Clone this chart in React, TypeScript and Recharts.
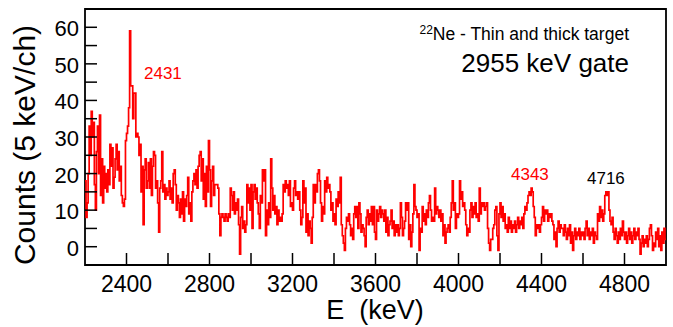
import React from 'react';
import { LineChart, Line, XAxis, YAxis, ReferenceArea } from 'recharts';

// 5 keV/ch spectrum, 2200 - 5000 keV (560 channels), gated on 2955 keV
const FIRST_BIN = 2200;
const BIN_WIDTH = 5;

const counts: number[] = [
  // 2200
  18, 8, 12, 20, 33, 25, 37, 30, 34, 17, 10, 26, 33, 20, 36, 14, 24, 12, 22, 16,
  // 2300
  20, 15, 21, 17, 28, 22, 27, 16, 19, 24, 28, 21, 26, 18, 22, 14, 12, 11, 13, 29,
  // 2400
  31, 33, 38, 59, 44, 44, 35, 42, 42, 30, 31, 30, 25, 28, 15, 22, 6, 21, 24, 16,
  // 2500
  18, 23, 16, 24, 14, 22, 26, 25, 16, 18, 12, 4, 16, 18, 26, 15, 17, 13, 16, 14,
  // 2600
  15, 18, 13, 16, 12, 20, 21, 17, 10, 14, 12, 8, 13, 9, 15, 7, 13, 11, 14, 19,
  // 2700
  9, 12, 7, 15, 18, 20, 17, 21, 16, 22, 25, 26, 18, 24, 13, 20, 11, 22, 15, 29,
  // 2800
  21, 11, 18, 22, 14, 17, 17, 17, 16, 9, 3, 8, 9, 8, 7, 9, 8, 7, 9, 8,
  // 2900
  16, 14, 10, 15, 9, 12, 10, 13, 6, -2, 8, 11, 5, 7, 4, 6, 17, 12, 16, 10,
  // 3000
  17, 5, 15, 17, 13, 16, 12, 9, 5, 14, 12, 21, 18, 21, 3, 10, 6, 12, 8, 24,
  // 3100
  16, 10, 14, 9, 11, 6, 10, 7, 8, 7, 9, 17, 15, 18, 16, 17, 14, 18, 11, 12,
  // 3200
  10, 16, 18, 14, 15, 13, 15, 10, 6, 8, 18, 12, 16, 4, 9, 3, 7, 5, 1, 8,
  // 3300
  17, 12, 17, 15, 20, 21, 18, 12, 7, 11, 9, 18, 15, 19, 16, 17, 15, 10, 12, 7,
  // 3400
  9, 6, 13, 11, 15, 12, 19, 6, 3, 1, -1, 5, 8, 7, 9, 6, 3, 5, 2, 9,
  // 3500
  11, 8, 11, 5, 12, 9, 4, 6, 5, 3, 0, 8, 10, 6, 9, 7, 11, 6, 11, 4,
  // 3600
  2, 10, 7, 9, 11, 8, 10, 9, 7, 10, 4, 8, 3, 6, 7, 10, 5, 7, 3, 6,
  // 3700
  4, 6, 3, 5, 12, 8, 3, 5, 7, 12, 10, 12, 2, 6, 0, 4, 9, 17, 11, 10,
  // 3800
  8, 9, -1, 5, 4, 11, 7, 9, 6, 10, 8, 12, 14, 10, 7, 8, 7, 16, 9, 11,
  // 3900
  10, 8, 10, 7, 9, 3, 6, 1, 4, 5, 6, 4, 8, 12, 18, 10, 12, 5, 9, 8,
  // 4000
  9, 18, 13, 15, 11, 12, 10, 6, 3, 5, 4, 10, 12, 8, 11, 9, 12, 8, 9, 7,
  // 4100
  16, 9, 12, 11, 12, 10, 11, 12, 5, 1, -1, 2, 2, 5, 6, 10, 11, 3, -1, 9,
  // 4200
  12, 8, 11, 7, 9, 5, 6, 4, 8, 5, 7, 4, 6, 5, 7, 4, 6, 8, 5, 7,
  // 4300
  6, 8, 5, 9, 11, 10, 12, 14, 15, 14, 16, 15, 11, 8, 3, 6, 5, 6, 4, 6,
  // 4400
  8, 11, 7, 10, 9, 10, 7, 9, 8, 9, 7, 6, 2, 4, 0, 5, 7, 4, 6, 5,
  // 4500
  5, 3, 6, 4, 2, 5, 3, 6, 1, 4, -1, 3, 5, 2, 4, 3, 5, 2, 4, 3,
  // 4600
  4, 2, 5, 7, 3, 5, 2, 4, 3, 5, 1, 4, 3, 2, 9, 7, 11, 8, 10, 7,
  // 4700
  9, 14, 15, 14, 15, 10, 7, 6, 8, 4, 2, 5, 3, 1, 4, 2, 5, 3, 7, 4,
  // 4800
  2, 4, 1, 3, 5, 2, 4, 1, 3, 5, 2, 4, 3, 5, 2, -2, 1, 3, 0, 2,
  // 4900
  1, 3, 0, 2, 5, 6, 3, -1, 1, 0, 4, 2, 5, 0, 3, -1, 4, 1, 5, 2,
];

const xTicks = [2200, 2400, 2600, 2800, 3000, 3200, 3400, 3600, 3800, 4000, 4200, 4400, 4600, 4800, 5000];
const xLabels = [2400, 2800, 3200, 3600, 4000, 4400, 4800];
const yTicks = [-5, 0, 5, 10, 15, 20, 25, 30, 35, 40, 45, 50, 55, 60, 65];
const yLabels = [0, 10, 20, 30, 40, 50, 60];

const X_MIN = 2200;
const X_MAX = 5000;
const Y_MIN = -5;
const Y_MAX = 65;

const FONT = '"Liberation Sans", Arial, Helvetica, sans-serif';
const RED = '#ff0000';

// bins drawn at their low edge with stepAfter; closing point at the upper edge
const data = counts
  .map((c, i) => ({ e: FIRST_BIN + i * BIN_WIDTH, c }))
  .concat([{ e: FIRST_BIN + counts.length * BIN_WIDTH, c: counts[counts.length - 1] }]);

const XTick = (props: any) => {
  const { x, y, payload } = props;
  const v = payload.value;
  const edge = v === X_MIN || v === X_MAX;
  return (
    <g>
      {!edge && <line x1={x} x2={x} y1={y} y2={y - 12} stroke="#000" strokeWidth={1.5} />}
      {xLabels.includes(v) && (
        <text x={x} y={y + 27} textAnchor="middle" fontSize={23} fontFamily={FONT} fill="#000">
          {v}
        </text>
      )}
    </g>
  );
};

const YTickLeft = (props: any) => {
  const { x, y, payload } = props;
  const v = payload.value;
  const edge = v === Y_MIN || v === Y_MAX;
  return (
    <g>
      {!edge && <line x1={x} x2={x + 12} y1={y} y2={y} stroke="#000" strokeWidth={1.5} />}
      {yLabels.includes(v) && (
        <text x={x - 6} y={y + 9} textAnchor="end" fontSize={22} fontFamily={FONT} fill="#000">
          {v}
        </text>
      )}
    </g>
  );
};

const YTickRight = (props: any) => {
  const { x, y, payload } = props;
  const v = payload.value;
  if (v === Y_MIN || v === Y_MAX) return <g />;
  return <line x1={x} x2={x - 12} y1={y} y2={y} stroke="#000" strokeWidth={1.5} />;
};

export default function App() {
  return (
    <div style={{ position: 'absolute', left: 0, top: 0, background: '#fff' }}>
      <LineChart width={673} height={327} data={data} margin={{ top: 9, right: 7, bottom: 0, left: 0 }}>
        <XAxis
          dataKey="e"
          type="number"
          domain={[X_MIN, X_MAX]}
          ticks={xTicks}
          interval={0}
          allowDataOverflow
          height={62}
          axisLine={false}
          tickLine={false}
          tickSize={0}
          tickMargin={0}
          tick={XTick}
        />
        <YAxis
          yAxisId="left"
          type="number"
          domain={[Y_MIN, Y_MAX]}
          ticks={yTicks}
          interval={0}
          allowDataOverflow
          width={85}
          axisLine={false}
          tickLine={false}
          tickSize={0}
          tickMargin={0}
          tick={YTickLeft}
        />
        <YAxis
          yAxisId="right"
          orientation="right"
          type="number"
          domain={[Y_MIN, Y_MAX]}
          ticks={yTicks}
          interval={0}
          allowDataOverflow
          width={0}
          axisLine={false}
          tickLine={false}
          tickSize={0}
          tickMargin={0}
          tick={YTickRight}
        />
        <Line
          yAxisId="left"
          type="stepAfter"
          dataKey="c"
          stroke={RED}
          strokeWidth={1.7}
          dot={false}
          activeDot={false}
          isAnimationActive={false}
        />
        <ReferenceArea
          yAxisId="left"
          x1={X_MIN}
          x2={X_MAX}
          y1={Y_MIN}
          y2={Y_MAX}
          fill="none"
          fillOpacity={0}
          stroke="#000"
          strokeWidth={1.8}
          ifOverflow="visible"
        />
        <text x={35} y={145} transform="rotate(-90, 35, 145)" textAnchor="middle" fontSize={30} fontFamily={FONT} fill="#000">
          Counts (5 keV/ch)
        </text>
        <text x={375} y={319} textAnchor="middle" fontSize={27} fontFamily={FONT} fill="#000" style={{ whiteSpace: 'pre' }}>
          {'E  (keV)'}
        </text>
        <text x={629} y={40} textAnchor="end" fontFamily={FONT} fill="#000">
          <tspan fontSize={12} dy={-6}>22</tspan>
          <tspan fontSize={17.5} dy={6}>Ne - Thin and thick target</tspan>
        </text>
        <text x={629} y={72} textAnchor="end" fontSize={26} fontFamily={FONT} fill="#000">
          2955 keV gate
        </text>
        <text x={144} y={79} fontSize={17} fontFamily={FONT} fill={RED}>2431</text>
        <text x={511} y={180} fontSize={17} fontFamily={FONT} fill={RED}>4343</text>
        <text x={587} y={184} fontSize={17} fontFamily={FONT} fill="#000">4716</text>
      </LineChart>
    </div>
  );
}
